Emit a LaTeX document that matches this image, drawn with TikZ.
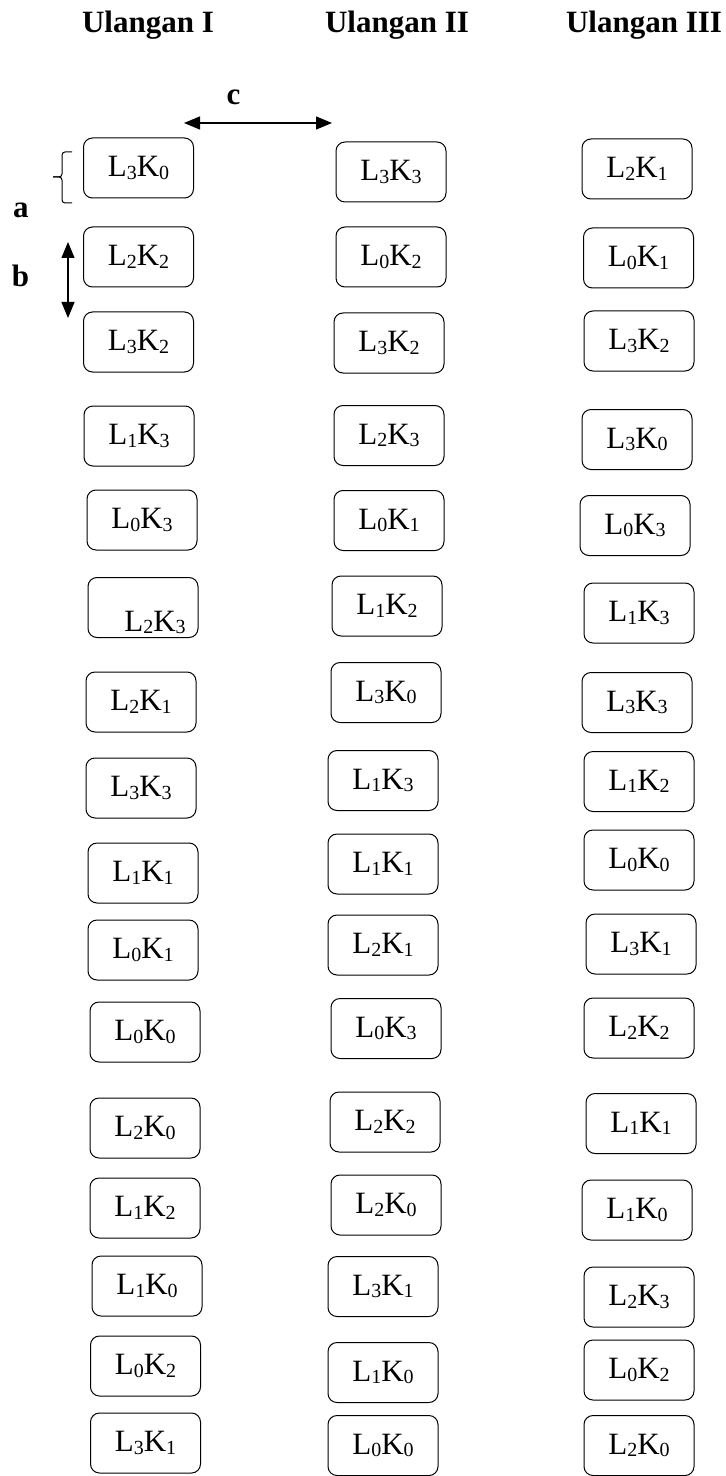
\documentclass[tikz,border=0pt]{standalone}
\usepackage{fontspec}
\setmainfont{Liberation Serif}
\usetikzlibrary{arrows.meta}
\newcommand\sbs[1]{\raisebox{-0.08em}{\fontsize{10}{10}\selectfont #1}}
\newcommand\lk[2]{L\sbs{#1}K\sbs{#2}}
\begin{document}
\begin{tikzpicture}[x=0.5pt,y=-0.5pt,
  cell/.style={draw, rounded corners=4.5pt, minimum width=55pt, minimum height=30pt,
    inner sep=0pt, line width=0.5pt, font=\fontsize{15.5}{18}\selectfont},
  celltext/.style={anchor=base, inner sep=0pt, font=\fontsize{15.5}{18}\selectfont},
  head/.style={anchor=base, inner sep=0pt, font=\fontsize{15.5}{18}\selectfont\bfseries},
  dim/.style={line width=0.7pt, {Triangle[length=8pt,width=6.5pt]}-{Triangle[length=8pt,width=6.5pt]}},
  brace/.style={line width=0.5pt, rounded corners=1.5pt}]
\useasboundingbox (0,0) rectangle (726,1476);

% headers
\node[head] (h1) at (148,33) {Ulangan I};
\node[head] (h2) at (397,33) {Ulangan II};
\node[head] (h3) at (644,33) {Ulangan III};

% dimension labels
\node[head] (la) at (21,218) {a};
\node[head] (lb) at (20.5,287) {b};
\node[head] (lc) at (233.5,105) {c};

% column 1
\node[cell] (u1r1) at (138.5,168) {\lk30};
\node[cell] (u1r2) at (138.5,257) {\lk22};
\node[cell] (u1r3) at (138.5,342) {\lk32};
\node[cell] (u1r4) at (139,436) {\lk13};
\node[cell] (u1r5) at (142,520) {\lk03};
\node[cell] (u1r6) at (143,607.5) {};
\node[celltext] (u1r6t) at (155,631) {\lk23};
\node[cell] (u1r7) at (141,702) {\lk21};
\node[cell] (u1r8) at (141,788) {\lk33};
\node[cell] (u1r9) at (143,873) {\lk11};
\node[cell] (u1r10) at (143,950) {\lk01};
\node[cell] (u1r11) at (145,1032) {\lk00};
\node[cell] (u1r12) at (145,1128) {\lk20};
\node[cell] (u1r13) at (145,1208) {\lk12};
\node[cell] (u1r14) at (147,1286) {\lk10};
\node[cell] (u1r15) at (145.5,1366) {\lk02};
\node[cell] (u1r16) at (145.5,1443) {\lk31};

% column 2
\node[cell] (u2r1) at (391,172) {\lk33};
\node[cell] (u2r2) at (391,257) {\lk02};
\node[cell] (u2r3) at (389,343) {\lk32};
\node[cell] (u2r4) at (389,435.5) {\lk23};
\node[cell] (u2r5) at (389,520.5) {\lk01};
\node[cell] (u2r6) at (387,606) {\lk12};
\node[cell] (u2r7) at (386,692.5) {\lk30};
\node[cell] (u2r8) at (383,780.5) {\lk13};
\node[cell] (u2r9) at (383,864) {\lk11};
\node[cell] (u2r10) at (383,945) {\lk21};
\node[cell] (u2r11) at (386,1028.5) {\lk03};
\node[cell] (u2r12) at (385,1122) {\lk22};
\node[cell] (u2r13) at (386,1205) {\lk20};
\node[cell] (u2r14) at (383,1286.5) {\lk31};
\node[cell] (u2r15) at (383,1372.5) {\lk10};
\node[cell] (u2r16) at (383,1445.5) {\lk00};

% column 3
\node[cell] (u3r1) at (637,169) {\lk21};
\node[cell] (u3r2) at (638.5,258) {\lk01};
\node[cell] (u3r3) at (639,341) {\lk32};
\node[cell] (u3r4) at (637,439.5) {\lk30};
\node[cell] (u3r5) at (635,525.5) {\lk03};
\node[cell] (u3r6) at (639,613) {\lk13};
\node[cell] (u3r7) at (637,702.5) {\lk33};
\node[cell] (u3r8) at (639,781.5) {\lk12};
\node[cell] (u3r9) at (639,860) {\lk00};
\node[cell] (u3r10) at (641,944) {\lk31};
\node[cell] (u3r11) at (639,1028) {\lk22};
\node[cell] (u3r12) at (641,1123.5) {\lk11};
\node[cell] (u3r13) at (637,1210) {\lk10};
\node[cell] (u3r14) at (639,1297) {\lk23};
\node[cell] (u3r15) at (639,1370) {\lk02};
\node[cell] (u3r16) at (639,1445.5) {\lk20};

% dimension arrows
\coordinate (cL) at (184,123);
\coordinate (cR) at (332,123);
\draw[dim] (cL) -- (cR);
\coordinate (bT) at (68,242);
\coordinate (bB) at (68,318);
\draw[dim] (bT) -- (bB);

% brace for a
\coordinate (brT) at (72,152);
\coordinate (brM) at (53,177);
\coordinate (brB) at (72,203);
\draw[brace] (brT) -- (62,152) -- (62,177) -- (brM);
\draw[brace] (brM) -- (62,177) -- (62,203) -- (brB);
\end{tikzpicture}
\end{document}
